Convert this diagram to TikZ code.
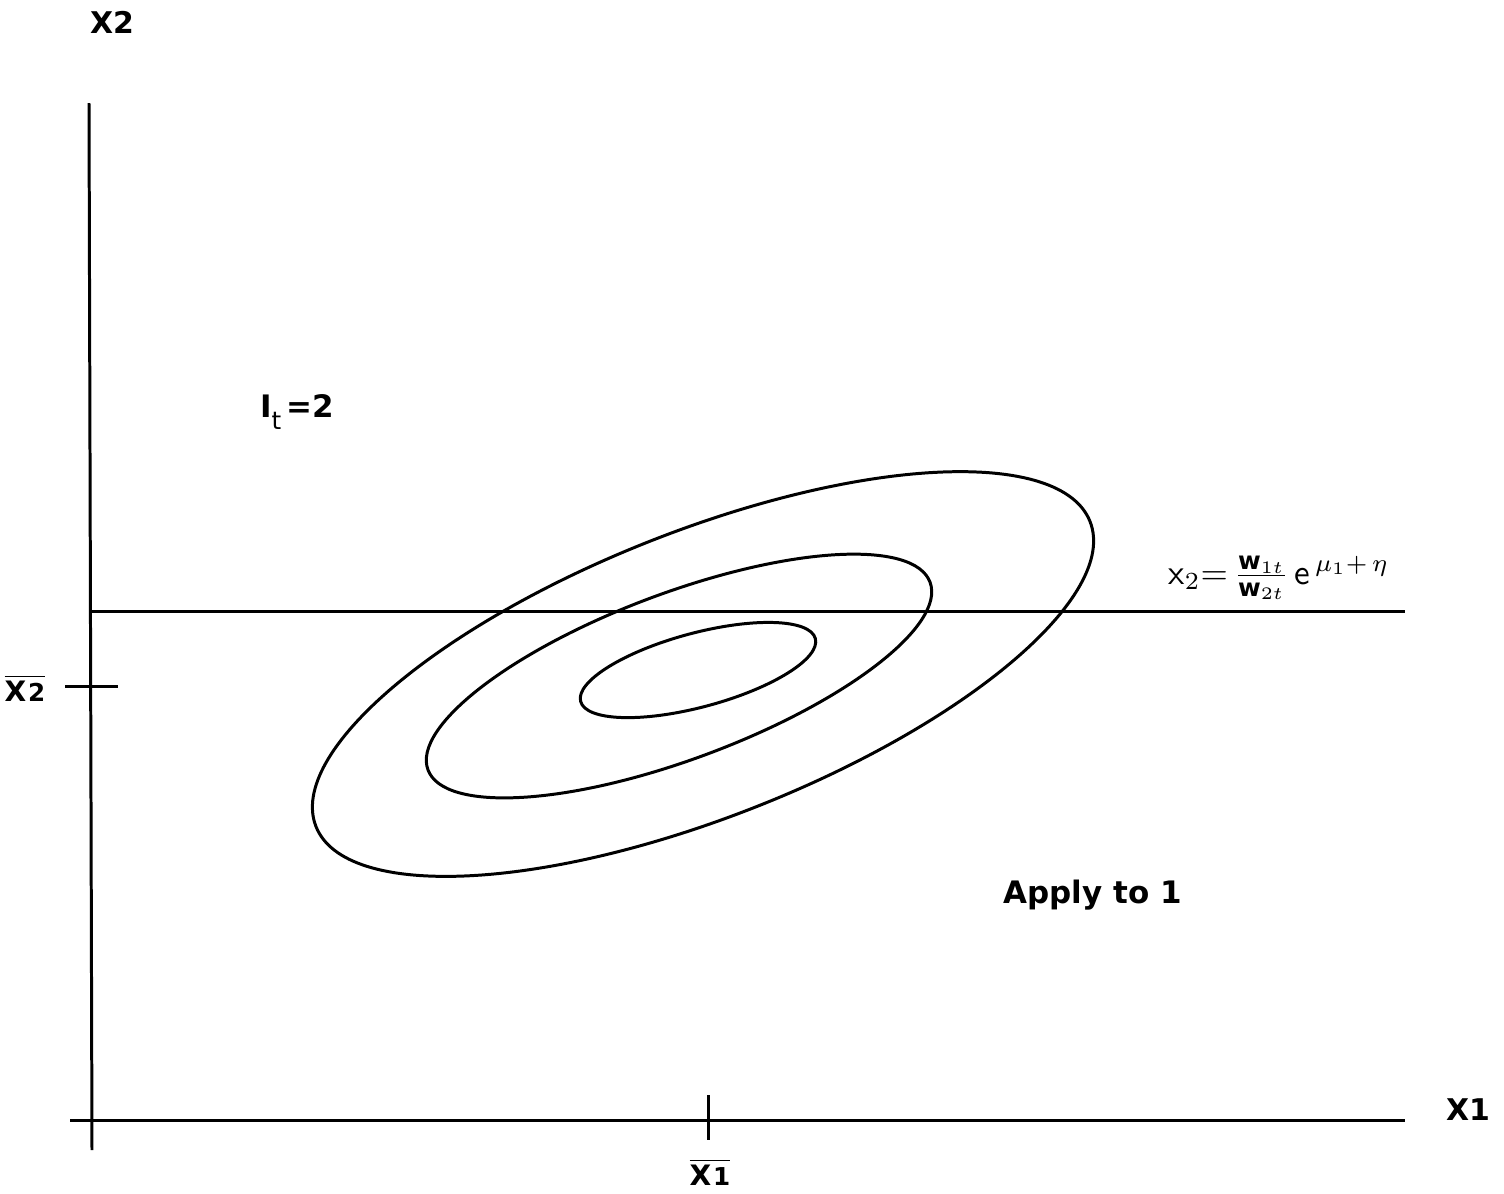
\documentclass[tikz,border=0pt]{standalone}
\usepackage{amsmath}
\usepackage{fontspec}
\setmainfont{DejaVu Sans}
\usepackage{tikz}
\usetikzlibrary{positioning}

\newcommand{\meanlab}[1]{$\overline{\mbox{\footnotesize\bfseries X\kern0.5pt\scriptsize #1}}$}

\begin{document}
\begin{tikzpicture}[
    x=0.01cm, y=-0.01cm,
    axis/.style={line width=0.85pt, black},
    tick/.style={line width=0.85pt, black},
    contour/.style={line width=0.85pt, black},
    axlab/.style={font=\fontsize{8.5}{10}\selectfont\bfseries, inner sep=0pt},
    lab/.style={font=\fontsize{8.8}{10}\selectfont\bfseries, inner sep=0pt},
    meanl/.style={inner sep=0pt},
]
\useasboundingbox (0,0) rectangle (1504,1193);

% Axes
\coordinate (ytop) at (89,103);
\coordinate (ybot) at (92,1150);
\coordinate (xleft) at (70,1120);
\coordinate (xright) at (1405,1120);
\draw[axis] (ytop) -- (ybot);
\draw[axis] (xleft) -- (xright);
\node[axlab] (x2lab) at (112,22) {X2};
\node[axlab] (x1lab) at (1468,1110) {X1};

% Means
\coordinate (m2a) at (65,686);
\coordinate (m2b) at (118,686);
\coordinate (m1a) at (708,1095);
\coordinate (m1b) at (708,1140);
\draw[tick] (m2a) -- (m2b);
\draw[tick] (m1a) -- (m1b);
\node[meanl] (x2bar) at (25,688) {\meanlab{2}};
\node[meanl] (x1bar) at (710,1172) {\meanlab{1}};

% Switching line
\coordinate (sw1) at (90,611);
\coordinate (sw2) at (1405,611);
\draw[axis] (sw1) -- (sw2);
\node[anchor=base west, inner sep=0pt, font=\fontsize{10}{10}\selectfont] (swlab) at (1168,584)
    {$\mathsf{x}_2{=}\,\frac{\mathbf{w}_{1t}}{\mathbf{w}_{2t}}\,\mathsf{e}^{\,\mu_1+\,\eta}$};

% Contours
\draw[contour, rotate around={21.5:(703,674)}] (703,674) ellipse (416 and 143);
\draw[contour, rotate around={20.5:(679,676)}] (679,676) ellipse (268 and 83);
\draw[contour, rotate around={15:(698,670)}] (698,670) ellipse (121.5 and 37);

% Labels
\node[lab] (ilab) at (297,412) {I\raisebox{-0.7ex}{\normalfont\scriptsize t}\,=2};
\node[lab, anchor=base west] (apply) at (1003,903) {Apply to 1};

\end{tikzpicture}
\end{document}
